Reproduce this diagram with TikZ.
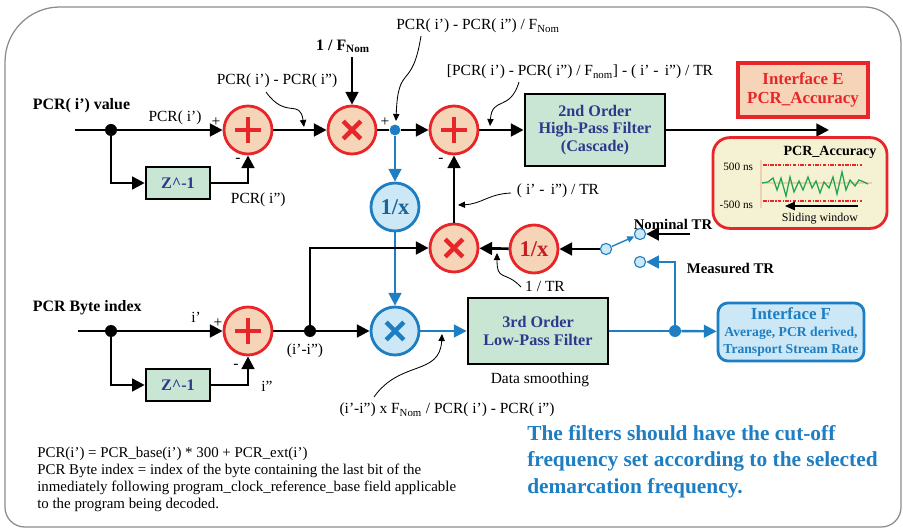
\documentclass[tikz,border=0pt]{standalone}
\usepackage{fontspec}
\setmainfont{Liberation Serif}
\usepackage{xcolor}
\usepackage{tikz}
\usetikzlibrary{arrows.meta}

\definecolor{opred}{HTML}{E8262A}
\definecolor{oppeach}{HTML}{F5D4B7}
\definecolor{skyline}{HTML}{1E7EC3}
\definecolor{skyfill}{HTML}{CCE8F6}
\definecolor{filtfill}{HTML}{C8E6D3}
\definecolor{navytext}{HTML}{2C3A8C}
\definecolor{panelfill}{HTML}{F5F2D3}
\definecolor{wavegreen}{HTML}{1FA64A}
\definecolor{framegray}{HTML}{8C8C8C}
\definecolor{axispeach}{HTML}{F0CFB0}

% marks drawn inside the operator circles
\newcommand{\drawplus}[1]{\draw[#1, line width=3.5pt]
  ([xshift=-0.33cm]path picture bounding box.center) -- ([xshift=0.33cm]path picture bounding box.center)
  ([yshift=-0.33cm]path picture bounding box.center) -- ([yshift=0.33cm]path picture bounding box.center);}
\newcommand{\drawcross}[1]{\draw[#1, line width=3.2pt]
  ([shift={(-0.22cm,-0.22cm)}]path picture bounding box.center) -- ([shift={(0.22cm,0.22cm)}]path picture bounding box.center)
  ([shift={(-0.22cm,0.22cm)}]path picture bounding box.center) -- ([shift={(0.22cm,-0.22cm)}]path picture bounding box.center);}

\begin{document}
\begin{tikzpicture}[x=0.025cm, y=-0.025cm, font=\fontsize{11}{13}\selectfont,
    wire/.style={line width=1.9pt},
    flow/.style={wire, -{Triangle[length=9pt,width=9pt]}},
    bwire/.style={line width=1.7pt, skyline},
    bflow/.style={bwire, -{Triangle[length=9pt,width=9pt]}},
    ptr/.style={line width=0.6pt, -{Triangle[length=5pt,width=4.5pt]}},
    opcircle/.style={circle, draw=opred, line width=2pt, fill=oppeach, minimum size=1.2cm, inner sep=0pt},
    bcircle/.style={circle, draw=skyline, line width=2pt, fill=skyfill, minimum size=1.2cm, inner sep=0pt},
    sumop/.style={opcircle, path picture={\drawplus{opred}}},
    mulop/.style={opcircle, path picture={\drawcross{opred}}},
    bmulop/.style={bcircle, path picture={\drawcross{skyline}}},
    invop/.style={font=\fontsize{16}{18}\selectfont\bfseries},
    dot/.style={circle, fill=black, minimum size=0.3cm, inner sep=0pt},
    bdot/.style={circle, fill=skyline, minimum size=0.27cm, inner sep=0pt},
    swc/.style={circle, draw=skyline, fill=skyfill, line width=0.8pt, minimum size=0.28cm, inner sep=0pt},
    delaybox/.style={rectangle, draw=black, line width=1.8pt, fill=filtfill, text=navytext,
        font=\fontsize{11.5}{13}\selectfont\bfseries, minimum width=1.6cm, minimum height=0.8cm},
    filter/.style={rectangle, draw=black, line width=2pt, fill=filtfill, text=navytext, align=center,
        font=\fontsize{11.5}{12.5}\selectfont\bfseries, minimum width=3.5cm},
    boldlbl/.style={font=\fontsize{11.3}{13}\selectfont\bfseries},
    sign/.style={font=\fontsize{11}{13}\selectfont, inner sep=0pt}]

\useasboundingbox (0,0) rectangle (903,531);

% frame
\draw[framegray, line width=0.9pt] (5,300) [rounded corners=39pt] -- (5,7) -- (600,7)
  [rounded corners=26pt] -- (901,7) -- (901,300) [rounded corners=14pt] -- (901,527) -- (5,527) -- cycle;

% ---- top row: PCR values
\node[boldlbl, anchor=west] (pcrlbl) at (28,106) {PCR( i') value};
\coordinate (inA) at (75,130);
\node[dot] (dotA) at (111,130) {};
\node[sumop] (sumA) at (248,130) {};
\node[delaybox] (zA) at (178,183) {Z\textasciicircum-1};
\node[mulop] (mulA) at (352,130) {};
\node[bdot] (tapB) at (395,130) {};
\node[sumop] (sumB) at (454,130) {};
\node[filter, minimum height=1.8cm] (hpf) at (595,130) {2nd Order\\High-Pass Filter\\(Cascade)};
\coordinate (outE) at (829,130);

\node[rectangle, draw=opred, line width=2.2pt, fill=oppeach, text=opred, align=center,
  font=\fontsize{12}{13}\selectfont\bfseries, minimum width=3.25cm, minimum height=1.35cm] (ifE) at (803,90) {Interface E\\PCR\_Accuracy};

\node[boldlbl] (fnom) at (343,46) {1 / F\textsubscript{Nom}};

\draw[flow] (inA) -- (sumA);
\draw[flow] (dotA) |- (zA);
\draw[flow] (zA) -| (sumA);
\draw[flow] (sumA) -- (mulA);
\draw[flow] (mulA |- fnom.south) -- (mulA);
\draw[wire] (mulA) -- (tapB);
\draw[flow] (tapB) -- (sumB);
\draw[flow] (sumB) -- (hpf);
\draw[flow] (hpf) -- (outE);

\node (lblA) at (175,118) {PCR( i')};
\node[sign] at (216,122) {+};
\node[sign] at (238,160) {-};
\node[anchor=west] (lblB) at (226,200) {PCR( i'')};
\node[sign] at (385,122) {+};
\node[sign] at (441,160) {-};

% pointer labels, top
\node (lblDiff) at (277,81) {PCR( i') - PCR( i'')};
\coordinate (ptDiff) at (304,127);
\draw[ptr] (266,92) .. controls (286,120) and (300,98) .. (ptDiff);

\node (lblNorm) at (478,26) {PCR( i') - PCR( i'') / F\textsubscript{Nom}};
\coordinate (ptNorm) at (396,121);
\draw[ptr] (421,36) .. controls (412,92) and (398,62) .. (ptNorm);

\node (lblErr) at (580,72) {[PCR( i') - PCR( i'') / F\textsubscript{nom}] - ( i' -\, i'') / TR};
\coordinate (ptErr) at (490,126);
\draw[ptr] (519,82) .. controls (510,112) and (492,96) .. (ptErr);

% accuracy display
\node[rectangle, rounded corners=12pt, draw=opred, line width=2pt, fill=panelfill,
  minimum width=4.35cm, minimum height=2.27cm] (accpanel) at (800,183) {};
\node[font=\fontsize{10}{12}\selectfont\bfseries] (acctitle) at (830,152) {PCR\_Accuracy};
\node[font=\fontsize{8}{10}\selectfont, anchor=east] (hi) at (758,167) {500 ns};
\node[font=\fontsize{8}{10}\selectfont, anchor=east] (lo) at (758,205) {-500 ns};
\draw[axispeach, line width=1pt] (761,160) -- (761,208) (761,183) -- (872,183);
\draw[opred, line width=1.2pt, dash pattern=on 2.5pt off 1pt on 0.8pt off 1pt] (763,165) -- (862,165) (763,201) -- (862,201);
\draw[wavegreen, line width=0.9pt] (762,183) -- (768,182) -- (773,178) -- (777,190) -- (781,178) -- (786,196)
  -- (790,177) -- (794,192) -- (799,181) -- (803,190) -- (808,177) -- (812,188) -- (816,181) -- (820,193)
  -- (824,182) -- (829,188) -- (833,177) -- (837,194) -- (842,172) -- (846,190) -- (850,180) -- (855,186)
  -- (859,180) -- (864,182) -- (868,184);
\coordinate (winR) at (858,206);
\coordinate (winL) at (785,206);
\draw[line width=1pt, -{Triangle[length=7pt,width=6pt]}] (winR) -- (winL);
\node[font=\fontsize{8.5}{10}\selectfont] (winlbl) at (820,219) {Sliding window};

% ---- middle: 1/TR path
\node[bcircle, invop, text=skyline!80!black] (invB) at (395,207) {1/x};
\node[mulop] (mulD) at (454,248) {};
\node[opcircle, invop, text=opred!85!black] (invD) at (534,249) {1/x};
\node[swc] (swL) at (606,249) {};
\node[swc] (swN) at (640,234) {};
\node[swc] (swM) at (640,262) {};
\coordinate (nomin) at (690,234);
\node[font=\fontsize{10.5}{12}\selectfont\bfseries] (nomlbl) at (673,224) {Nominal TR};
\node[font=\fontsize{10.5}{12}\selectfont\bfseries, anchor=west] (measlbl) at (682,268) {Measured TR};

\draw[bflow] (tapB) -- (invB);
\draw[flow] (mulD) -- (sumB);
\draw[flow] (invD) -- (mulD);
\draw[flow] (swL) -- (invD);
\draw[skyline, line width=1pt, -{Triangle[length=5pt,width=4.5pt]}] (swL) -- (swN);
\draw[flow] (nomin) -- (swN);

\node (lblRate) at (558,191) {( i' -\, i'') / TR};
\coordinate (ptRate) at (458,205);
\draw[ptr] (511,193) .. controls (488,194) and (482,204) .. (ptRate);

\node (lblInv) at (545,286) {1 / TR};
\coordinate (ptInv) at (497,253);
\draw[ptr] (521,287) .. controls (505,270) and (497,282) .. (ptInv);

% ---- bottom row: byte index
\node[boldlbl, anchor=west] (bytelbl) at (28,308) {PCR Byte index};
\coordinate (inB) at (78,331);
\node[dot] (dotB) at (111,331) {};
\node[sumop] (sumC) at (248,331) {};
\node[delaybox] (zB) at (178,385) {Z\textasciicircum-1};
\node[dot] (dotC) at (310,331) {};
\node[bmulop] (mulC) at (395,331) {};
\node[filter, minimum height=1.65cm] (lpf) at (538,331) {3rd Order\\Low-Pass Filter};
\node[bdot, minimum size=0.3cm] (jF) at (675,331) {};
\node[rectangle, rounded corners=7pt, draw=skyline, line width=2pt, fill=skyfill, text=skyline, align=center,
  minimum width=3.65cm, minimum height=1.45cm] (ifF) at (791,332)
  {{\fontsize{12}{13}\selectfont\bfseries Interface F}\\[-1pt]
   {\fontsize{9.7}{10.5}\selectfont\bfseries Average, PCR derived,}\\[-1pt]
   {\fontsize{9.7}{10.5}\selectfont\bfseries Transport Stream Rate}};

\draw[flow] (inB) -- (sumC);
\draw[flow] (dotB) |- (zB);
\draw[flow] (zB) -| (sumC);
\draw[wire] (sumC) -- (dotC);
\draw[bflow] (invB) -- (mulC);
\draw[flow] (dotC) |- (mulD);
\draw[flow] (dotC) -- (mulC);
\draw[bflow] (mulC) -- (lpf);
\draw[bwire] (lpf) -- (jF);
\draw[bflow] (jF) -- (ifF);
\draw[bflow] (jF) |- (swM);

\node[sign] (lblIa) at (196,317) {i'};
\node[sign] at (218,323) {+};
\node[sign] at (236,366) {-};
\node[sign] (lblIb) at (267,386) {i''};
\node (lblDi) at (305,351) {(i'-i'')};
\node (smooth) at (540,380) {Data smoothing};

\node (lblScale) at (447,410) {(i'-i'') x F\textsubscript{Nom} / PCR( i') - PCR( i'')};
\coordinate (ptScale) at (442,334);
\draw[ptr] (374,397) .. controls (400,360) and (440,376) .. (ptScale);

% ---- notes
\node[anchor=north west, align=left, inner sep=0pt, font=\fontsize{10.6}{12.1}\selectfont] (notes) at (37,447)
  {PCR(i') = PCR\_base(i') * 300 + PCR\_ext(i')\\
   PCR Byte index = index of the byte containing the last bit of the\\
   inmediately following program\_clock\_reference\_base field applicable\\
   to the program being decoded.};
\node[anchor=north west, align=left, inner sep=0pt, text=skyline, font=\fontsize{15.2}{18.8}\selectfont\bfseries] (advice) at (527,425)
  {The filters should have the cut-off\\
   frequency set according to the selected\\
   demarcation frequency.};
\end{tikzpicture}
\end{document}
